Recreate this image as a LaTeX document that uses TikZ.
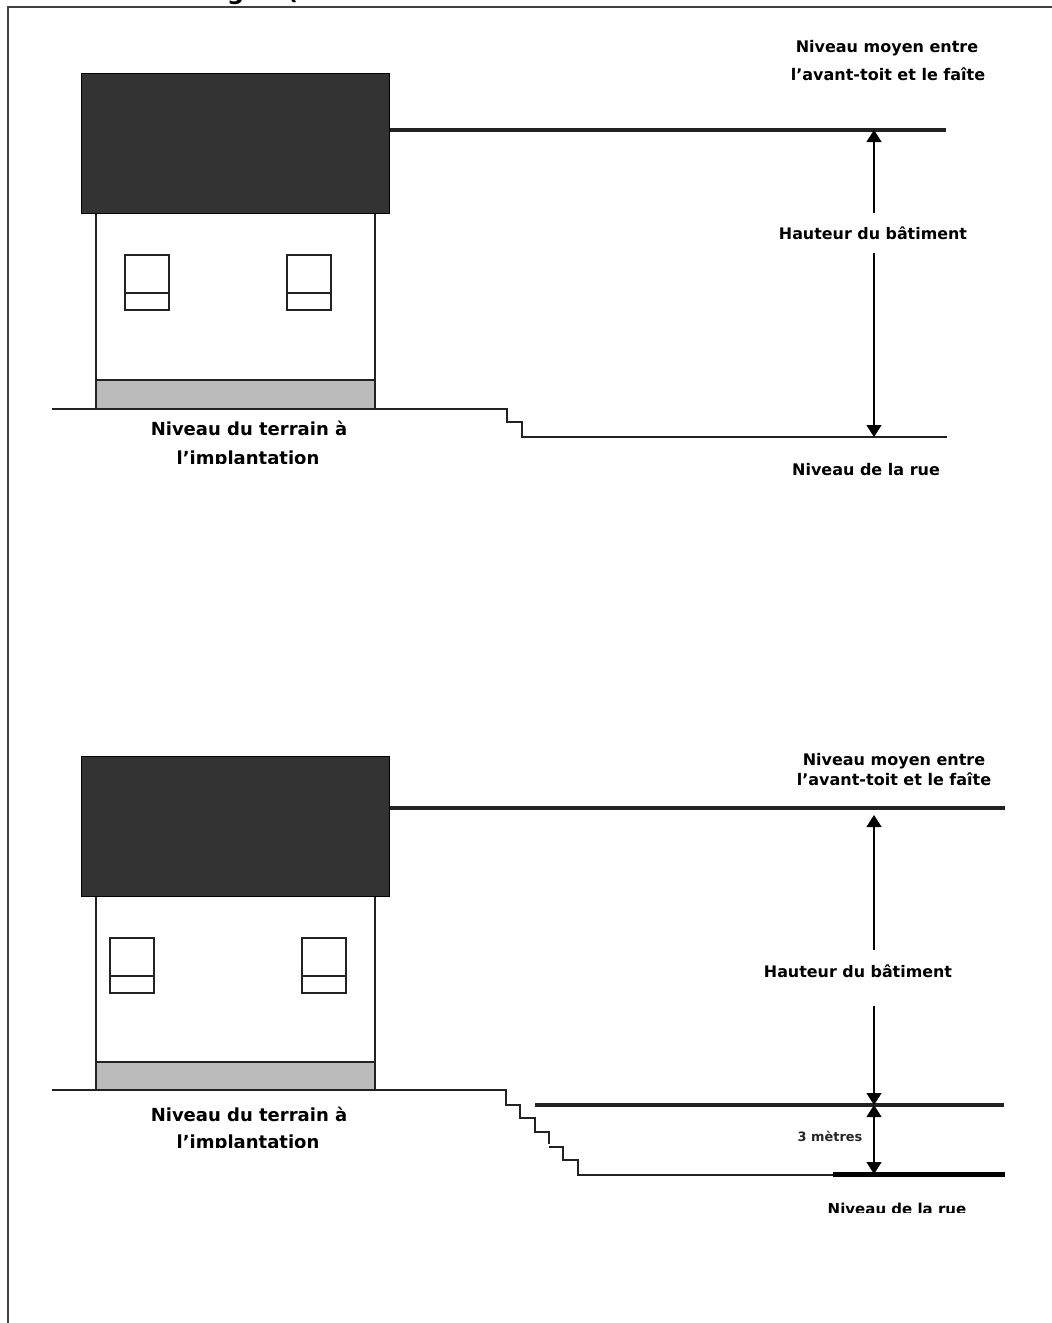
\documentclass[tikz,border=0pt]{standalone}
\usepackage{fontspec}
\setmainfont{DejaVu Sans}
\usetikzlibrary{arrows.meta}
\definecolor{roofc}{HTML}{333333}
\definecolor{basec}{HTML}{BBBBBB}
\definecolor{linec}{HTML}{222222}
\tikzset{
  x=1pt,y=-1pt,
  thin line/.style={draw=linec,line width=1.3pt},
  level line/.style={draw=linec,line width=3.5pt},
  street line/.style={draw=black,line width=4.5pt},
  roof/.style={fill=roofc,draw=black,line width=1pt},
  wall/.style={draw=linec,line width=1.4pt,fill=white},
  base/.style={fill=basec,draw=linec,line width=1.3pt},
  win/.style={draw=linec,line width=1.3pt},
  frame/.style={draw=black!75,line width=1.5pt},
  label/.style={font=\bfseries\fontsize{16}{18}\selectfont,inner sep=0pt,text=black},
  ruelabel/.style={font=\bfseries\fontsize{15}{17}\selectfont,inner sep=0pt,text=black},
  midlabel/.style={font=\bfseries\fontsize{15.9}{18}\selectfont,inner sep=0pt,text=black},
  biglabel/.style={font=\bfseries\fontsize{18}{20}\selectfont,inner sep=0pt,text=black},
  smalllabel/.style={font=\fontsize{12.9}{14}\selectfont\bfseries,inner sep=0pt,text=black!85},
  dim/.style={draw=black,line width=1.3pt,-{Triangle[length=12pt,width=15pt]}},
  dimb/.style={draw=black,line width=1.3pt,{Triangle[length=12pt,width=15pt]}-{Triangle[length=12pt,width=15pt]}},
}
\begin{document}
\begin{tikzpicture}
\useasboundingbox (0,0) rectangle (1052,1323);
\fill[white] (0,0) rectangle (1052,1323);
% clipped heading remnants
\begin{scope}
\clip (0,0) rectangle (1052,6);
\node[font=\bfseries\fontsize{24}{26}\selectfont,inner sep=0pt,anchor=base west] (headg) at (227,-1) {g};
\node[font=\bfseries\fontsize{24}{26}\selectfont,inner sep=0pt,anchor=base west] (headp) at (287,-1) {(};
\end{scope}
\draw[frame] (8,1323) -- (8,7) -- (1052,7);

% ---------- upper house
\draw[wall] (96,213) rectangle (375,409);
\draw[base] (96,380) rectangle (375,409);
\draw[roof] (81,73) rectangle (389,213);
\draw[win] (125,255) rectangle (169,310) (125,293) -- (169,293);
\draw[win] (287,255) rectangle (331,310) (287,293) -- (331,293);
\draw[thin line] (52,409) -- (507,409) -- (507,422) -- (522,422) -- (522,437) -- (947,437);
\draw[level line] (390,130) -- (946,130);

\coordinate (t1) at (874,130);
\coordinate (b1) at (874,437);
\node[midlabel,fill=white,inner xsep=2pt,inner ysep=13.5pt] (h1) at (873,233) {Hauteur du bâtiment};
\draw[dim] (h1.north -| t1) -- (t1);
\draw[dim] (h1.south -| b1) -- (b1);

\node[label] (n1a) at (887,48) {Niveau moyen entre};
\node[label] (n1b) at (888,74) {l’avant-toit et le faîte};
\node[label] (r1) at (866,470) {Niveau de la rue};
\node[biglabel] (g1a) at (249,428) {Niveau du terrain à};
\begin{scope}
\clip (100,440) rectangle (400,463);
\node[biglabel] (g1b) at (248,460) {l’implantation};
\end{scope}

% ---------- lower house
\draw[wall] (96,896) rectangle (375,1090);
\draw[base] (96,1062) rectangle (375,1090);
\draw[roof] (81,756) rectangle (389,896);
\draw[win] (110,938) rectangle (154,993) (110,976) -- (154,976);
\draw[win] (302,938) rectangle (346,993) (302,976) -- (346,976);
\draw[thin line] (52,1090) -- (506,1090) -- (506,1105) -- (520,1105) -- (520,1118) -- (535,1118) -- (535,1132) -- (549,1132) -- (549,1144);
\draw[thin line] (549,1147) -- (563,1147) -- (563,1160) -- (578,1160) -- (578,1175) -- (840,1175);
\draw[level line] (390,808) -- (1005,808);
\draw[level line] (535,1105) -- (1004,1105);
\draw[street line] (833,1174.5) -- (1005,1174.5);

\coordinate (t2) at (874,815);
\coordinate (m2) at (874,1105);
\coordinate (b2) at (874,1174);
\coordinate (h2n) at (874,950);
\coordinate (h2s) at (874,1006);
\node[midlabel] (h2) at (858,971) {Hauteur du bâtiment};
\draw[dim] (h2n) -- (t2);
\draw[dim] (h2s) -- (m2);
\draw[dimb] (m2) -- (b2);

\node[label] (n2a) at (894,761) {Niveau moyen entre};
\node[label] (n2b) at (894,779) {l’avant-toit et le faîte};
\node[smalllabel] (m3) at (830,1136) {3 mètres};
\begin{scope}
\clip (800,1190) rectangle (1000,1212.5);
\node[ruelabel] (r2) at (897,1208.5) {Niveau de la rue};
\end{scope}
\node[biglabel] (g2a) at (249,1114) {Niveau du terrain à};
\begin{scope}
\clip (100,1125) rectangle (400,1147);
\node[biglabel] (g2b) at (248,1144) {l’implantation};
\end{scope}
\end{tikzpicture}
\end{document}
